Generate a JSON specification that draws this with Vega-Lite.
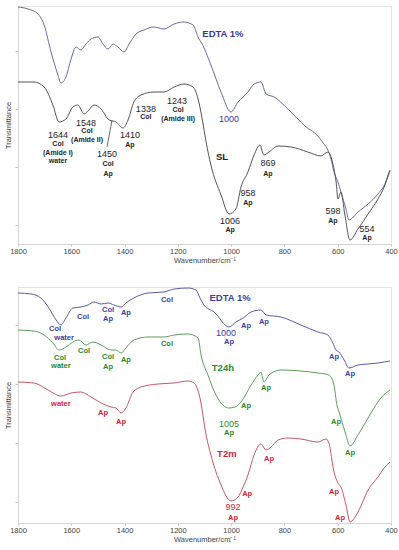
{
  "$schema": "https://vega.github.io/schema/vega-lite/v6.json",
  "padding": {"left": 4, "top": 4, "right": 2, "bottom": 2},
  "background": "white",
  "config": {
    "view": {"stroke": "#e4e4e4"},
    "axis": {"grid": false, "domainColor": "#d6d6d6", "tickColor": "#c4c4c4", "labelFont": "Liberation Sans", "titleFont": "Liberation Sans", "labelColor": "#444444", "titleColor": "#444444", "labelFontSize": 7.5, "titleFontSize": 7.5, "titleFontWeight": "normal"},
    "text": {"font": "Liberation Sans"},
    "concat": {"spacing": 20}
  },
  "datasets": {
    "topLines": [
      {"s":"EDTA-a","wn":1800,"t":237},{"s":"EDTA-a","wn":1762,"t":235},{"s":"EDTA-a","wn":1725,"t":230},{"s":"EDTA-a","wn":1702,"t":219},{"s":"EDTA-a","wn":1676,"t":192},{"s":"EDTA-a","wn":1650,"t":169},{"s":"EDTA-a","wn":1639,"t":161},{"s":"EDTA-a","wn":1620,"t":167},{"s":"EDTA-a","wn":1601,"t":185},{"s":"EDTA-a","wn":1582,"t":197},{"s":"EDTA-a","wn":1564,"t":194},{"s":"EDTA-a","wn":1545,"t":200},{"s":"EDTA-a","wn":1526,"t":205},{"s":"EDTA-a","wn":1500,"t":207},{"s":"EDTA-a","wn":1481,"t":200},{"s":"EDTA-a","wn":1462,"t":195},{"s":"EDTA-a","wn":1443,"t":200},{"s":"EDTA-a","wn":1425,"t":197},{"s":"EDTA-a","wn":1402,"t":192},{"s":"EDTA-a","wn":1383,"t":200},{"s":"EDTA-a","wn":1357,"t":210},{"s":"EDTA-a","wn":1327,"t":214},{"s":"EDTA-a","wn":1290,"t":217},{"s":"EDTA-a","wn":1252,"t":215},{"s":"EDTA-a","wn":1214,"t":220},{"s":"EDTA-a","wn":1177,"t":222},{"s":"EDTA-a","wn":1143,"t":219},{"s":"EDTA-a","wn":1121,"t":205},{"s":"EDTA-a","wn":1113,"t":202},{"s":"EDTA-a","wn":1076,"t":179},{"s":"EDTA-a","wn":1038,"t":152},{"s":"EDTA-a","wn":1001,"t":132},{"s":"EDTA-a","wn":974,"t":142},{"s":"EDTA-a","wn":955,"t":147},{"s":"EDTA-a","wn":937,"t":152},{"s":"EDTA-a","wn":914,"t":160},{"s":"EDTA-a","wn":888,"t":162},{"s":"EDTA-a","wn":869,"t":150},{"s":"EDTA-a","wn":839,"t":147},{"s":"EDTA-a","wn":787,"t":135},{"s":"EDTA-a","wn":727,"t":119},{"s":"EDTA-a","wn":663,"t":104},{"s":"EDTA-a","wn":625,"t":85},{"s":"EDTA-a","wn":614,"t":72},{"s":"EDTA-a","wn":599,"t":62},{"s":"EDTA-a","wn":588,"t":52},{"s":"EDTA-a","wn":569,"t":35},{"s":"EDTA-a","wn":558,"t":24},{"s":"EDTA-a","wn":524,"t":32},{"s":"EDTA-a","wn":486,"t":40},{"s":"EDTA-a","wn":449,"t":50},{"s":"EDTA-a","wn":419,"t":62},{"s":"EDTA-a","wn":404,"t":73},
      {"s":"SL","wn":1800,"t":162},{"s":"SL","wn":1740,"t":162},{"s":"SL","wn":1702,"t":157},{"s":"SL","wn":1669,"t":139},{"s":"SL","wn":1646,"t":122},{"s":"SL","wn":1620,"t":125},{"s":"SL","wn":1594,"t":137},{"s":"SL","wn":1575,"t":139},{"s":"SL","wn":1552,"t":130},{"s":"SL","wn":1534,"t":134},{"s":"SL","wn":1515,"t":139},{"s":"SL","wn":1488,"t":135},{"s":"SL","wn":1458,"t":124},{"s":"SL","wn":1432,"t":122},{"s":"SL","wn":1406,"t":116},{"s":"SL","wn":1387,"t":124},{"s":"SL","wn":1365,"t":142},{"s":"SL","wn":1338,"t":149},{"s":"SL","wn":1290,"t":152},{"s":"SL","wn":1252,"t":152},{"s":"SL","wn":1214,"t":157},{"s":"SL","wn":1177,"t":160},{"s":"SL","wn":1143,"t":157},{"s":"SL","wn":1124,"t":145},{"s":"SL","wn":1110,"t":127},{"s":"SL","wn":1094,"t":102},{"s":"SL","wn":1076,"t":79},{"s":"SL","wn":1038,"t":49},{"s":"SL","wn":1008,"t":30},{"s":"SL","wn":982,"t":35},{"s":"SL","wn":963,"t":57},{"s":"SL","wn":937,"t":72},{"s":"SL","wn":914,"t":89},{"s":"SL","wn":892,"t":99},{"s":"SL","wn":877,"t":89},{"s":"SL","wn":858,"t":92},{"s":"SL","wn":824,"t":98},{"s":"SL","wn":775,"t":97},{"s":"SL","wn":712,"t":92},{"s":"SL","wn":663,"t":88},{"s":"SL","wn":637,"t":92},{"s":"SL","wn":618,"t":80},{"s":"SL","wn":606,"t":62},{"s":"SL","wn":599,"t":45},{"s":"SL","wn":588,"t":52},{"s":"SL","wn":573,"t":29},{"s":"SL","wn":554,"t":4},{"s":"SL","wn":524,"t":15},{"s":"SL","wn":486,"t":30},{"s":"SL","wn":449,"t":45},{"s":"SL","wn":426,"t":57},{"s":"SL","wn":411,"t":69},{"s":"SL","wn":404,"t":74}
    ],
    "bottomLines": [
      {"s":"EDTA-b","wn":1800,"t":230},{"s":"EDTA-b","wn":1751,"t":229},{"s":"EDTA-b","wn":1714,"t":225},{"s":"EDTA-b","wn":1684,"t":215},{"s":"EDTA-b","wn":1657,"t":203},{"s":"EDTA-b","wn":1639,"t":198},{"s":"EDTA-b","wn":1620,"t":205},{"s":"EDTA-b","wn":1594,"t":215},{"s":"EDTA-b","wn":1564,"t":216},{"s":"EDTA-b","wn":1537,"t":218},{"s":"EDTA-b","wn":1515,"t":221},{"s":"EDTA-b","wn":1488,"t":219},{"s":"EDTA-b","wn":1462,"t":220},{"s":"EDTA-b","wn":1440,"t":218},{"s":"EDTA-b","wn":1413,"t":216},{"s":"EDTA-b","wn":1395,"t":220},{"s":"EDTA-b","wn":1365,"t":225},{"s":"EDTA-b","wn":1312,"t":230},{"s":"EDTA-b","wn":1252,"t":231},{"s":"EDTA-b","wn":1214,"t":234},{"s":"EDTA-b","wn":1162,"t":235},{"s":"EDTA-b","wn":1132,"t":233},{"s":"EDTA-b","wn":1117,"t":225},{"s":"EDTA-b","wn":1102,"t":218},{"s":"EDTA-b","wn":1064,"t":211},{"s":"EDTA-b","wn":1008,"t":196},{"s":"EDTA-b","wn":982,"t":201},{"s":"EDTA-b","wn":955,"t":205},{"s":"EDTA-b","wn":925,"t":211},{"s":"EDTA-b","wn":888,"t":213},{"s":"EDTA-b","wn":869,"t":208},{"s":"EDTA-b","wn":813,"t":206},{"s":"EDTA-b","wn":738,"t":198},{"s":"EDTA-b","wn":674,"t":191},{"s":"EDTA-b","wn":637,"t":188},{"s":"EDTA-b","wn":618,"t":180},{"s":"EDTA-b","wn":606,"t":173},{"s":"EDTA-b","wn":595,"t":171},{"s":"EDTA-b","wn":576,"t":163},{"s":"EDTA-b","wn":558,"t":155},{"s":"EDTA-b","wn":524,"t":158},{"s":"EDTA-b","wn":486,"t":159},{"s":"EDTA-b","wn":449,"t":160},{"s":"EDTA-b","wn":426,"t":161},{"s":"EDTA-b","wn":404,"t":162},
      {"s":"T24h","wn":1800,"t":193},{"s":"T24h","wn":1740,"t":192},{"s":"T24h","wn":1702,"t":188},{"s":"T24h","wn":1669,"t":180},{"s":"T24h","wn":1646,"t":173},{"s":"T24h","wn":1620,"t":176},{"s":"T24h","wn":1594,"t":181},{"s":"T24h","wn":1571,"t":183},{"s":"T24h","wn":1545,"t":178},{"s":"T24h","wn":1519,"t":181},{"s":"T24h","wn":1488,"t":178},{"s":"T24h","wn":1451,"t":173},{"s":"T24h","wn":1432,"t":173},{"s":"T24h","wn":1413,"t":170},{"s":"T24h","wn":1395,"t":175},{"s":"T24h","wn":1365,"t":183},{"s":"T24h","wn":1312,"t":186},{"s":"T24h","wn":1252,"t":186},{"s":"T24h","wn":1214,"t":188},{"s":"T24h","wn":1162,"t":189},{"s":"T24h","wn":1124,"t":185},{"s":"T24h","wn":1113,"t":168},{"s":"T24h","wn":1087,"t":148},{"s":"T24h","wn":1057,"t":128},{"s":"T24h","wn":1031,"t":118},{"s":"T24h","wn":1008,"t":115},{"s":"T24h","wn":986,"t":116},{"s":"T24h","wn":963,"t":121},{"s":"T24h","wn":925,"t":138},{"s":"T24h","wn":899,"t":148},{"s":"T24h","wn":888,"t":151},{"s":"T24h","wn":877,"t":141},{"s":"T24h","wn":858,"t":148},{"s":"T24h","wn":813,"t":153},{"s":"T24h","wn":738,"t":152},{"s":"T24h","wn":674,"t":150},{"s":"T24h","wn":633,"t":148},{"s":"T24h","wn":614,"t":138},{"s":"T24h","wn":603,"t":118},{"s":"T24h","wn":595,"t":111},{"s":"T24h","wn":588,"t":105},{"s":"T24h","wn":569,"t":88},{"s":"T24h","wn":554,"t":77},{"s":"T24h","wn":524,"t":88},{"s":"T24h","wn":486,"t":105},{"s":"T24h","wn":464,"t":115},{"s":"T24h","wn":438,"t":125},{"s":"T24h","wn":404,"t":133},
      {"s":"T2m","wn":1800,"t":141},{"s":"T2m","wn":1740,"t":140},{"s":"T2m","wn":1687,"t":133},{"s":"T2m","wn":1639,"t":127},{"s":"T2m","wn":1601,"t":130},{"s":"T2m","wn":1564,"t":131},{"s":"T2m","wn":1526,"t":126},{"s":"T2m","wn":1488,"t":120},{"s":"T2m","wn":1451,"t":116},{"s":"T2m","wn":1432,"t":115},{"s":"T2m","wn":1413,"t":110},{"s":"T2m","wn":1395,"t":115},{"s":"T2m","wn":1368,"t":131},{"s":"T2m","wn":1338,"t":136},{"s":"T2m","wn":1275,"t":139},{"s":"T2m","wn":1214,"t":140},{"s":"T2m","wn":1162,"t":142},{"s":"T2m","wn":1139,"t":140},{"s":"T2m","wn":1117,"t":125},{"s":"T2m","wn":1094,"t":88},{"s":"T2m","wn":1076,"t":68},{"s":"T2m","wn":1038,"t":38},{"s":"T2m","wn":1001,"t":22},{"s":"T2m","wn":974,"t":26},{"s":"T2m","wn":955,"t":36},{"s":"T2m","wn":937,"t":48},{"s":"T2m","wn":914,"t":68},{"s":"T2m","wn":888,"t":79},{"s":"T2m","wn":869,"t":73},{"s":"T2m","wn":850,"t":76},{"s":"T2m","wn":824,"t":83},{"s":"T2m","wn":787,"t":85},{"s":"T2m","wn":738,"t":84},{"s":"T2m","wn":674,"t":81},{"s":"T2m","wn":644,"t":84},{"s":"T2m","wn":633,"t":80},{"s":"T2m","wn":614,"t":51},{"s":"T2m","wn":599,"t":40},{"s":"T2m","wn":588,"t":36},{"s":"T2m","wn":569,"t":18},{"s":"T2m","wn":554,"t":1},{"s":"T2m","wn":524,"t":11},{"s":"T2m","wn":486,"t":33},{"s":"T2m","wn":449,"t":46},{"s":"T2m","wn":426,"t":55},{"s":"T2m","wn":404,"t":61}
    ],
    "topText": [
      {"s":"EDTA-a","k":"name","wn":1031,"t":210,"label":"EDTA 1%"},
      {"s":"EDTA-a","k":"num","wn":1008,"t":125,"label":"1000"},
      {"s":"SL","k":"num","wn":1650,"t":109,"label":"1644"},
      {"s":"SL","k":"lab","wn":1650,"t":100,"label":"Col"},
      {"s":"SL","k":"lab","wn":1650,"t":91,"label":"(Amide I)"},
      {"s":"SL","k":"lab","wn":1650,"t":83,"label":"water"},
      {"s":"SL","k":"num","wn":1545,"t":121,"label":"1548"},
      {"s":"SL","k":"lab","wn":1541,"t":113,"label":"Col"},
      {"s":"SL","k":"lab","wn":1541,"t":104,"label":"(Amide II)"},
      {"s":"SL","k":"num","wn":1466,"t":90,"label":"1450"},
      {"s":"SL","k":"lab","wn":1462,"t":80,"label":"Col"},
      {"s":"SL","k":"lab","wn":1462,"t":70,"label":"Ap"},
      {"s":"SL","k":"num","wn":1380,"t":109,"label":"1410"},
      {"s":"SL","k":"lab","wn":1380,"t":99,"label":"Ap"},
      {"s":"SL","k":"num","wn":1320,"t":135,"label":"1338"},
      {"s":"SL","k":"lab","wn":1320,"t":127,"label":"Col"},
      {"s":"SL","k":"num","wn":1203,"t":143,"label":"1243"},
      {"s":"SL","k":"lab","wn":1199,"t":134,"label":"Col"},
      {"s":"SL","k":"lab","wn":1199,"t":125,"label":"(Amide III)"},
      {"s":"SL","k":"name","wn":1034,"t":87,"label":"SL"},
      {"s":"SL","k":"num","wn":862,"t":81,"label":"869"},
      {"s":"SL","k":"lab","wn":862,"t":70,"label":"Ap"},
      {"s":"SL","k":"num","wn":937,"t":51,"label":"958"},
      {"s":"SL","k":"lab","wn":937,"t":41,"label":"Ap"},
      {"s":"SL","k":"num","wn":1004,"t":23,"label":"1006"},
      {"s":"SL","k":"lab","wn":1004,"t":14,"label":"Ap"},
      {"s":"SL","k":"num","wn":618,"t":33,"label":"598"},
      {"s":"SL","k":"lab","wn":618,"t":23,"label":"Ap"},
      {"s":"SL","k":"num","wn":490,"t":15,"label":"554"},
      {"s":"SL","k":"lab","wn":490,"t":6,"label":"Ap"}
    ],
    "bottomText": [
      {"s":"EDTA-b","k":"lab","wn":1556,"t":206,"label":"Col"},
      {"s":"EDTA-b","k":"lab","wn":1462,"t":213,"label":"Col"},
      {"s":"EDTA-b","k":"lab","wn":1462,"t":204,"label":"Ap"},
      {"s":"EDTA-b","k":"lab","wn":1395,"t":210,"label":"Ap"},
      {"s":"EDTA-b","k":"lab","wn":1241,"t":223,"label":"Col"},
      {"s":"EDTA-b","k":"lab","wn":1661,"t":194,"label":"Col"},
      {"s":"EDTA-b","k":"lab","wn":1627,"t":185,"label":"water"},
      {"s":"EDTA-b","k":"name","wn":1004,"t":225,"label":"EDTA 1%"},
      {"s":"EDTA-b","k":"num","wn":1019,"t":190,"label":"1000"},
      {"s":"EDTA-b","k":"lab","wn":1008,"t":181,"label":"Ap"},
      {"s":"EDTA-b","k":"lab","wn":944,"t":197,"label":"Ap"},
      {"s":"EDTA-b","k":"lab","wn":877,"t":201,"label":"Ap"},
      {"s":"EDTA-b","k":"lab","wn":614,"t":166,"label":"Ap"},
      {"s":"EDTA-b","k":"lab","wn":554,"t":149,"label":"Ap"},
      {"s":"T24h","k":"lab","wn":1642,"t":165,"label":"Col"},
      {"s":"T24h","k":"lab","wn":1639,"t":157,"label":"water"},
      {"s":"T24h","k":"lab","wn":1552,"t":172,"label":"Col"},
      {"s":"T24h","k":"lab","wn":1462,"t":166,"label":"Col"},
      {"s":"T24h","k":"lab","wn":1462,"t":156,"label":"Ap"},
      {"s":"T24h","k":"lab","wn":1395,"t":163,"label":"Ap"},
      {"s":"T24h","k":"lab","wn":1241,"t":179,"label":"Col"},
      {"s":"T24h","k":"name","wn":1031,"t":155,"label":"T24h"},
      {"s":"T24h","k":"lab","wn":869,"t":135,"label":"Ap"},
      {"s":"T24h","k":"lab","wn":944,"t":117,"label":"Ap"},
      {"s":"T24h","k":"num","wn":1008,"t":99,"label":"1005"},
      {"s":"T24h","k":"lab","wn":1008,"t":90,"label":"Ap"},
      {"s":"T24h","k":"lab","wn":606,"t":101,"label":"Ap"},
      {"s":"T24h","k":"lab","wn":554,"t":70,"label":"Ap"},
      {"s":"T2m","k":"lab","wn":1639,"t":119,"label":"water"},
      {"s":"T2m","k":"lab","wn":1481,"t":110,"label":"Ap"},
      {"s":"T2m","k":"lab","wn":1413,"t":101,"label":"Ap"},
      {"s":"T2m","k":"name","wn":1016,"t":69,"label":"T2m"},
      {"s":"T2m","k":"lab","wn":858,"t":64,"label":"Ap"},
      {"s":"T2m","k":"lab","wn":940,"t":29,"label":"Ap"},
      {"s":"T2m","k":"num","wn":993,"t":16,"label":"992"},
      {"s":"T2m","k":"lab","wn":993,"t":5,"label":"Ap"},
      {"s":"T2m","k":"lab","wn":614,"t":31,"label":"Ap"},
      {"s":"T2m","k":"lab","wn":591,"t":5,"label":"Ap"}
    ],
    "leader": [{"wn":1447,"t":124,"wn2":1466,"t2":97}]
  },
  "vconcat": [
    {
      "width": 373,
      "height": 238,
      "encoding": {
        "x": {"field":"wn","type":"quantitative","scale":{"domain":[400,1800],"reverse":true,"nice":false,"zero":false},"axis":{"values":[1800,1600,1400,1200,1000,800,600,400],"format":"d","title":"Wavenumber/cm⁻¹","tickSize":2,"labelPadding":1,"titlePadding":2,"labelFlush":false}},
        "y": {"field":"t","type":"quantitative","scale":{"domain":[0,238],"nice":false,"zero":false},"axis":{"values":[19,77,135,193],"labels":false,"tickSize":3,"title":"Transmittance","titlePadding":2}}
      },
      "layer": [
        {"data":{"name":"topLines"},"mark":{"type":"line","interpolate":"monotone","strokeWidth":1},
         "encoding":{"stroke":{"field":"s","type":"nominal","scale":{"domain":["EDTA-a","SL","EDTA-b","T24h","T2m"],"range":["#6a6aa6","#555555","#5b5bab","#5e9e5e","#c35a64"]},"legend":null}}},
        {"data":{"name":"leader"},"mark":{"type":"rule","stroke":"#444444","strokeWidth":0.8},
         "encoding":{"x2":{"field":"wn2"},"y2":{"field":"t2"}}},
        {"data":{"name":"topText"},"transform":[{"filter":"datum.k === 'num'"}],"mark":{"type":"text","fontSize":9,"align":"center","baseline":"middle"},
         "encoding":{"text":{"field":"label"},"fill":{"field":"s","type":"nominal","scale":{"domain":["EDTA-a","SL","EDTA-b","T24h","T2m"],"range":["#3a3a9c","#1e1e1e","#3c3ca4","#2a8a2a","#d02535"]},"legend":null}}},
        {"data":{"name":"topText"},"transform":[{"filter":"datum.k === 'lab'"}],"mark":{"type":"text","fontSize":7,"fontWeight":"bold","align":"center","baseline":"middle"},
         "encoding":{"text":{"field":"label"},"fill":{"field":"s","type":"nominal","legend":null}}},
        {"data":{"name":"topText"},"transform":[{"filter":"datum.k === 'name'"}],"mark":{"type":"text","fontSize":9.5,"fontWeight":"bold","align":"center","baseline":"middle"},
         "encoding":{"text":{"field":"label"},"fill":{"field":"s","type":"nominal","legend":null}}}
      ]
    },
    {
      "width": 373,
      "height": 236,
      "encoding": {
        "x": {"field":"wn","type":"quantitative","scale":{"domain":[400,1800],"reverse":true,"nice":false,"zero":false},"axis":{"values":[1800,1600,1400,1200,1000,800,600,400],"format":"d","title":"Wavenumber/cm⁻¹","tickSize":2,"labelPadding":1,"titlePadding":2,"labelFlush":false}},
        "y": {"field":"t","type":"quantitative","scale":{"domain":[0,236],"nice":false,"zero":false},"axis":{"values":[21,80,139,198],"labels":false,"tickSize":3,"title":"Transmittance","titlePadding":2}}
      },
      "layer": [
        {"data":{"name":"bottomLines"},"mark":{"type":"line","interpolate":"monotone","strokeWidth":1},
         "encoding":{"stroke":{"field":"s","type":"nominal","scale":{"domain":["EDTA-a","SL","EDTA-b","T24h","T2m"],"range":["#6a6aa6","#555555","#5b5bab","#5e9e5e","#c35a64"]},"legend":null}}},
        {"data":{"name":"bottomText"},"transform":[{"filter":"datum.k === 'num'"}],"mark":{"type":"text","fontSize":9,"align":"center","baseline":"middle"},
         "encoding":{"text":{"field":"label"},"fill":{"field":"s","type":"nominal","scale":{"domain":["EDTA-a","SL","EDTA-b","T24h","T2m"],"range":["#3a3a9c","#1e1e1e","#3c3ca4","#2a8a2a","#d02535"]},"legend":null}}},
        {"data":{"name":"bottomText"},"transform":[{"filter":"datum.k === 'lab'"}],"mark":{"type":"text","fontSize":7.5,"fontWeight":"bold","align":"center","baseline":"middle"},
         "encoding":{"text":{"field":"label"},"fill":{"field":"s","type":"nominal","legend":null}}},
        {"data":{"name":"bottomText"},"transform":[{"filter":"datum.k === 'name'"}],"mark":{"type":"text","fontSize":9.5,"fontWeight":"bold","align":"center","baseline":"middle"},
         "encoding":{"text":{"field":"label"},"fill":{"field":"s","type":"nominal","legend":null}}}
      ]
    }
  ]
}
